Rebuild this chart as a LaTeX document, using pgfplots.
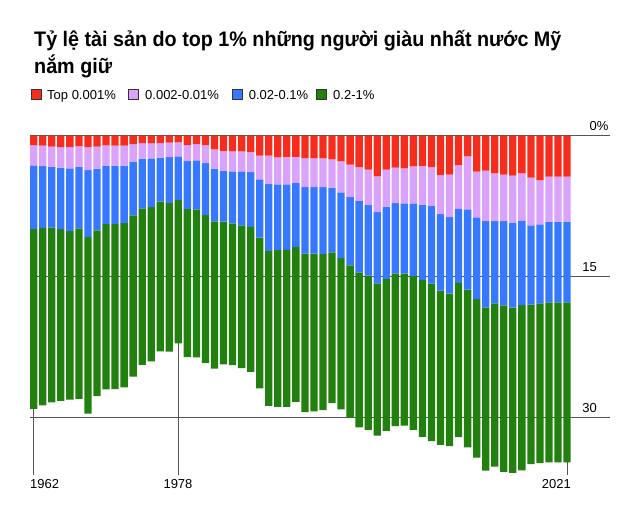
\documentclass[border=0pt]{standalone}
\usepackage{fontspec}
\setmainfont{Liberation Sans}
\newfontfamily\titlefont[FakeStretch=0.94]{Liberation Sans}
\usepackage{pgfplots}
\usepackage{pgfplotstable}
\pgfplotsset{compat=1.18}
\definecolor{cRed}{RGB}{246,44,28}
\definecolor{cLil}{RGB}{218,162,250}
\definecolor{cBlu}{RGB}{54,120,255}
\definecolor{cGrn}{RGB}{34,128,14}
\definecolor{cGrid}{RGB}{85,85,85}
\pgfplotstableread{
year r l b g
1962 1.00 2.17 6.79 19.15
1963 1.07 2.17 6.61 18.90
1964 1.17 2.13 6.47 18.65
1965 1.21 2.20 6.54 18.33
1966 1.21 2.27 6.68 17.98
1967 1.10 2.20 6.57 18.19
1968 1.21 2.45 7.14 18.83
1969 1.17 2.35 6.57 17.66
1970 1.03 2.17 6.22 17.62
1971 1.07 2.13 6.22 17.59
1972 1.07 2.13 6.11 17.52
1973 0.89 1.88 5.72 17.20
1974 0.78 1.67 5.29 16.70
1975 0.82 1.60 5.19 16.45
1976 0.78 1.56 4.69 15.95
1977 0.75 1.53 4.90 15.85
1978 0.71 1.49 4.66 15.28
1979 1.00 1.71 5.08 15.81
1980 0.89 1.74 5.22 15.77
1981 1.00 1.92 5.54 15.77
1982 1.46 2.06 5.61 15.70
1983 1.63 2.10 5.44 15.20
1984 1.67 2.13 5.54 15.13
1985 1.67 2.13 5.76 15.21
1986 1.74 2.13 5.86 15.45
1987 2.13 2.52 6.22 16.06
1988 2.13 3.02 7.14 16.52
1989 2.31 2.88 7.00 16.73
1990 2.27 2.91 7.00 16.73
1991 2.27 2.77 6.82 16.52
1992 2.38 3.09 7.11 16.88
1993 2.38 3.09 7.11 16.81
1994 2.42 3.06 7.11 16.66
1995 2.52 3.02 6.89 16.09
1996 2.74 3.30 7.00 16.13
1997 3.09 3.45 7.28 16.27
1998 3.34 3.62 7.60 16.52
1999 3.62 3.77 7.53 16.45
2000 4.34 3.80 7.60 16.24
2001 3.62 3.94 7.71 16.20
2002 3.41 3.77 7.53 16.24
2003 3.48 3.73 7.50 16.20
2004 3.27 3.94 7.75 16.41
2005 3.23 4.12 8.03 16.73
2006 3.34 4.16 8.28 16.77
2007 4.19 4.16 8.17 16.45
2008 4.16 4.51 8.17 16.24
2009 3.13 4.66 7.89 16.45
2010 2.20 5.65 8.56 16.81
2011 3.84 4.87 8.71 16.91
2012 3.73 5.37 9.24 17.37
2013 4.02 5.08 8.78 17.41
2014 4.16 4.94 8.99 17.76
2015 4.26 5.01 9.06 17.62
2016 4.02 5.05 8.99 17.62
2017 4.48 5.08 8.46 16.98
2018 4.73 4.73 8.42 17.02
2019 4.37 4.80 8.60 17.05
2020 4.37 4.80 8.60 17.05
2021 4.37 4.80 8.60 17.05
}\wealth
\begin{document}
\begin{tikzpicture}[x=1pt,y=1pt]
\path[use as bounding box] (0,0) rectangle (640,521);
% title
\node[anchor=base west, inner sep=0pt] at (34,474.3) {\titlefont\bfseries\fontsize{21}{25}\selectfont Tỷ lệ tài sản do top 1\% những người giàu nhất nước Mỹ};
\node[anchor=base west, inner sep=0pt] at (34,447.7) {\titlefont\bfseries\fontsize{21}{25}\selectfont nắm giữ};
% legend
\draw[black!80, line width=0.6pt, fill=cRed] (31,422) rectangle (41,432);
\node[anchor=base west, inner sep=0pt] at (47,421.7) {\fontsize{13}{15}\selectfont Top 0.001\%};
\draw[black!80, line width=0.6pt, fill=cLil] (128,422) rectangle (138,432);
\node[anchor=base west, inner sep=0pt] at (145,421.7) {\fontsize{13}{15}\selectfont 0.002-0.01\%};
\draw[black!80, line width=0.6pt, fill=cBlu] (232,422) rectangle (242,432);
\node[anchor=base west, inner sep=0pt] at (248.7,421.7) {\fontsize{13}{15}\selectfont 0.02-0.1\%};
\draw[black!80, line width=0.6pt, fill=cGrn] (316.7,422) rectangle (326.7,432);
\node[anchor=base west, inner sep=0pt] at (333,421.7) {\fontsize{13}{15}\selectfont 0.2-1\%};
\begin{axis}[
  at={(30pt,46pt)}, anchor=south west,
  scale only axis, width=580pt, height=339.3pt,
  hide axis, clip=false,
  ybar stacked, bar width=7.3pt,
  xmin=1961.59, xmax=2025.75,
  ymin=0, ymax=36.17, y dir=reverse,
]
\addplot[fill=cRed, draw=none] table[x=year,y=r] {\wealth};
\addplot[fill=cLil, draw=none] table[x=year,y=l] {\wealth};
\addplot[fill=cBlu, draw=none] table[x=year,y=b] {\wealth};
\addplot[fill=cGrn, draw=none] table[x=year,y=g] {\wealth};
\draw[cGrid, line width=1.1pt] (axis cs:1961.59,0) -- (axis cs:2025.75,0);
\draw[cGrid, line width=1.1pt] (axis cs:1961.59,15) -- (axis cs:2025.75,15);
\draw[cGrid, line width=1.1pt] (axis cs:1961.59,30) -- (axis cs:2025.75,30);
\draw[cGrid, line width=0.9pt] (axis cs:1962,29.11) -- (axis cs:1962,36.17);
\draw[cGrid, line width=0.9pt] (axis cs:1978,22.14) -- (axis cs:1978,36.17);
\draw[cGrid, line width=0.9pt] (axis cs:2021,34.82) -- (axis cs:2021,36.17);
\end{axis}
% value labels
\node[anchor=base east, inner sep=0pt] at (597,390) {\fontsize{13}{15}\selectfont 0\rlap{\%}};
\node[anchor=base east, inner sep=0pt] at (597,249.3) {\fontsize{13}{15}\selectfont 15};
\node[anchor=base east, inner sep=0pt] at (597,108.3) {\fontsize{13}{15}\selectfont 30};
% year labels
\node[anchor=base west, inner sep=0pt] at (30,32.3) {\fontsize{13}{15}\selectfont 1962};
\node[anchor=base, inner sep=0pt] at (178,32.3) {\fontsize{13}{15}\selectfont 1978};
\node[anchor=base east, inner sep=0pt] at (571,32.3) {\fontsize{13}{15}\selectfont 2021};
\end{tikzpicture}
\end{document}
